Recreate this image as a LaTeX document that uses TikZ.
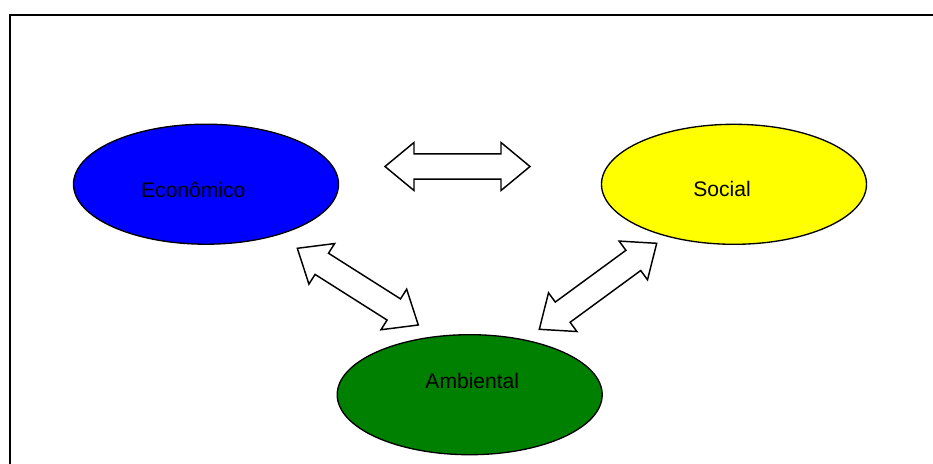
\documentclass[tikz,border=0pt]{standalone}
\usepackage{fontspec}
\setmainfont{Liberation Sans}
\usetikzlibrary{calc,shapes.geometric}

\definecolor{ecoblue}{RGB}{0,0,255}
\definecolor{socyellow}{RGB}{255,255,0}
\definecolor{ambgreen}{RGB}{0,128,0}

\newcommand{\headlen}{21.75pt}
\newcommand{\headhalf}{18pt}
\newcommand{\shafthalf}{9.4pt}
% double block arrow from point #1 to point #2
\newcommand{\dblblock}[2]{%
  \draw[blockarrow] (#1)
    -- ($(#1)!\headlen!(#2)!\headhalf!90:(#2)$)
    -- ($(#1)!\headlen!(#2)!\shafthalf!90:(#2)$)
    -- ($(#2)!\headlen!(#1)!\shafthalf!-90:(#1)$)
    -- ($(#2)!\headlen!(#1)!\headhalf!-90:(#1)$)
    -- (#2)
    -- ($(#2)!\headlen!(#1)!\headhalf!90:(#1)$)
    -- ($(#2)!\headlen!(#1)!\shafthalf!90:(#1)$)
    -- ($(#1)!\headlen!(#2)!\shafthalf!-90:(#2)$)
    -- ($(#1)!\headlen!(#2)!\headhalf!-90:(#2)$)
    -- cycle;}

\tikzset{
  blockarrow/.style={draw=black, fill=white, line width=1.1pt, line join=miter},
  sphere/.style={ellipse, draw=black, line width=1pt, minimum width=198.75pt,
    minimum height=90pt, inner sep=0pt},
  nametext/.style={font=\fontsize{15.8}{19}\selectfont, anchor=base, inner sep=0pt}
}

\begin{document}
\begin{tikzpicture}[x=0.75pt,y=-0.75pt]
    \useasboundingbox (0,0) rectangle (933,464);
    \clip (0,0) rectangle (933,464);

    % Frame round the diagram
    \draw[line width=1.5pt] (10,15) rectangle (960,490);

    % The three ellipses
    \node[sphere, fill=ecoblue] (eco) at (206,184.2) {};
    \node[sphere, fill=socyellow] (soc) at (734,184.3) {};
    \node[sphere, fill=ambgreen] (amb) at (469.7,394.7) {};

    % Their texts
    \node[nametext] (ecotxt) at (193.3,197.3) {Econômico};
    \node[nametext] (soctxt) at (722,196) {Social};
    \node[nametext] (ambtxt) at (472.3,388.3) {Ambiental};

    % Define the ends of the arrows
    \coordinate (EL) at (385,166.5);
    \coordinate (SR) at (530,166.5);
    \coordinate (EA) at (297.3,248.3);
    \coordinate (AE) at (418.3,325);
    \coordinate (SA) at (656.7,243.3);
    \coordinate (AS) at (539.3,329.3);

    % Draw the double arrows
    \dblblock{EL}{SR}
    \dblblock{EA}{AE}
    \dblblock{SA}{AS}

\end{tikzpicture}
\end{document}
